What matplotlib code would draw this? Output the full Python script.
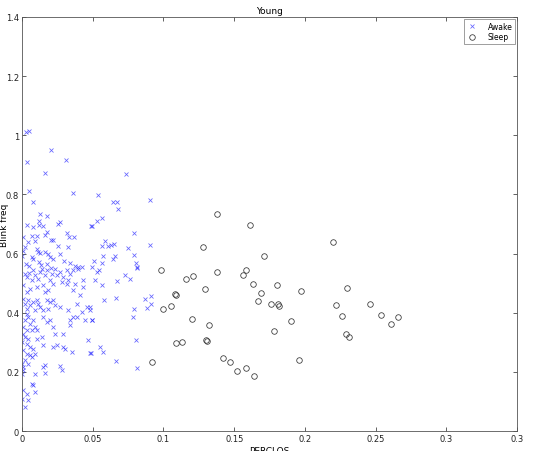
import numpy as np
import matplotlib
matplotlib.use("Agg")
from matplotlib import pyplot as plt

# Awake samples (PERCLOS, blink frequency)
awake_x = [
    0.003, 0.005, 0.0205, 0.0038, 0.031, 0.0165, 0.0047, 0.036, 0.008, 0.0127,
    0.018, 0.0033, 0.008, 0.012, 0.0118, 0.015, 0.0257, 0.027, 0.0316, 0.033,
    0.0368, 0.001, 0.0104, 0.0069, 0.0163, 0.0175, 0.0205, 0.022, 0.004, 0.002,
    0.0092, 0.0257, 0.0328, 0.0488,
    0.0005, 0.0, 0.0104, 0.0115, 0.0127, 0.0163, 0.0186, 0.0069, 0.008, 0.0198,
    0.022, 0.0269, 0.030, 0.034, 0.0375, 0.0399, 0.0422, 0.003, 0.005, 0.012,
    0.0135, 0.018, 0.0205,
    0.0734, 0.054, 0.064, 0.067, 0.068, 0.0906, 0.0564, 0.0533, 0.0493, 0.0795,
    0.0587, 0.0564, 0.0611, 0.063, 0.0653, 0.0748, 0.0906, 0.0575, 0.0658, 0.0642,
    0.0795, 0.051, 0.0564, 0.0807, 0.0493, 0.0812,
    0.0021, 0.0033, 0.0052, 0.0068, 0.008, 0.0092, 0.0116, 0.0127, 0.0139, 0.0163,
    0.0175, 0.0198, 0.021, 0.0233, 0.0245, 0.0269, 0.0281, 0.0316, 0.0328, 0.034,
    0.0363, 0.0375, 0.0399, 0.0434, 0.0434, 0.041, 0.0363, 0.0316, 0.0292, 0.0222,
    0.0186, 0.0163, 0.0151, 0.0104, 0.0057, 0.0033, 0.0009,
    0.0009, 0.0021, 0.0045, 0.0033, 0.0057, 0.008, 0.0104, 0.0116, 0.0092, 0.0127,
    0.0151, 0.0175, 0.0198, 0.0222, 0.0233, 0.0186, 0.0269, 0.0328, 0.0387, 0.0422,
    0.0458, 0.0481, 0.0363, 0.034, 0.0387, 0.0446, 0.0493, 0.0033, 0.0045, 0.0021,
    0.0057, 0.008, 0.0092, 0.0151, 0.0175, 0.0198, 0.0222, 0.0233, 0.0292, 0.034,
    0.0009, 0.0033, 0.0068, 0.0104,
    0.0009, 0.0021, 0.0045, 0.0, 0.0033, 0.0057, 0.008, 0.0104, 0.0139, 0.0151,
    0.0222, 0.0245, 0.0292, 0.0304, 0.0351, 0.0469, 0.0481, 0.0009, 0.0033, 0.0057,
    0.0068, 0.0092, 0.0021, 0.0, 0.0045, 0.0151, 0.0163, 0.0269, 0.0281, 0.0009,
    0.0009, 0.0092, 0.0163, 0.0, 0.0068, 0.008, 0.0009, 0.0092, 0.0033, 0.0,
    0.0045, 0.0021,
    0.0547, 0.0533, 0.0517, 0.0564, 0.067, 0.0729, 0.0764, 0.0811, 0.058, 0.0665,
    0.087, 0.091, 0.091, 0.0887, 0.0792, 0.0788, 0.0493, 0.0481, 0.0807, 0.0552,
    0.0571, 0.0488, 0.0665, 0.0816,
]
awake_y = [
    1.010, 1.015, 0.951, 0.909, 0.916, 0.871, 0.811, 0.805, 0.773, 0.735,
    0.728, 0.698, 0.691, 0.710, 0.697, 0.694, 0.700, 0.708, 0.670, 0.655,
    0.655, 0.655, 0.658, 0.660, 0.663, 0.674, 0.647, 0.647, 0.638, 0.621,
    0.644, 0.627, 0.621, 0.692,
    0.610, 0.593, 0.616, 0.606, 0.602, 0.604, 0.599, 0.590, 0.582, 0.587,
    0.582, 0.599, 0.575, 0.569, 0.558, 0.556, 0.556, 0.565, 0.558, 0.570,
    0.560, 0.565, 0.552,
    0.869, 0.798, 0.774, 0.776, 0.752, 0.782, 0.719, 0.710, 0.692, 0.670,
    0.644, 0.625, 0.626, 0.629, 0.633, 0.619, 0.630, 0.593, 0.593, 0.582,
    0.595, 0.576, 0.568, 0.568, 0.553, 0.553,
    0.532, 0.521, 0.534, 0.510, 0.543, 0.526, 0.515, 0.538, 0.549, 0.526,
    0.543, 0.510, 0.532, 0.549, 0.526, 0.538, 0.504, 0.543, 0.510, 0.532,
    0.543, 0.498, 0.549, 0.510, 0.487, 0.459, 0.476, 0.498, 0.521, 0.498,
    0.476, 0.470, 0.493, 0.487, 0.481, 0.470, 0.493,
    0.448, 0.431, 0.442, 0.414, 0.425, 0.436, 0.442, 0.431, 0.408, 0.419,
    0.408, 0.442, 0.436, 0.442, 0.425, 0.414, 0.419, 0.408, 0.431, 0.402,
    0.419, 0.408, 0.386, 0.374, 0.386, 0.374, 0.374, 0.397, 0.386, 0.374,
    0.363, 0.374, 0.352, 0.386, 0.369, 0.374, 0.352, 0.329, 0.329, 0.357,
    0.352, 0.340, 0.340, 0.340,
    0.329, 0.318, 0.312, 0.301, 0.295, 0.284, 0.278, 0.312, 0.318, 0.290,
    0.284, 0.290, 0.284, 0.278, 0.267, 0.307, 0.264, 0.273, 0.262, 0.256,
    0.250, 0.259, 0.239, 0.228, 0.228, 0.216, 0.222, 0.219, 0.205, 0.216,
    0.205, 0.194, 0.196, 0.194, 0.160, 0.154, 0.138, 0.132, 0.126, 0.109,
    0.104, 0.081,
    0.546, 0.538, 0.512, 0.495, 0.507, 0.526, 0.515, 0.551, 0.444, 0.451,
    0.448, 0.457, 0.431, 0.416, 0.411, 0.386, 0.377, 0.419, 0.307, 0.284,
    0.267, 0.264, 0.237, 0.213,
]

# Sleep samples
sleep_x = [
    0.138, 0.161, 0.128, 0.171, 0.098, 0.116, 0.121, 0.138, 0.158, 0.156,
    0.180, 0.129, 0.163, 0.169, 0.108, 0.109, 0.167, 0.176, 0.181, 0.182,
    0.100, 0.105, 0.120, 0.132, 0.178, 0.109, 0.113, 0.130, 0.131, 0.092,
    0.142, 0.147, 0.152, 0.158, 0.164, 0.220, 0.197, 0.230, 0.222, 0.246,
    0.226, 0.254, 0.266, 0.261, 0.190, 0.229, 0.231, 0.196,
]
sleep_y = [
    0.735, 0.698, 0.623, 0.593, 0.545, 0.514, 0.524, 0.539, 0.545, 0.527,
    0.494, 0.481, 0.497, 0.466, 0.463, 0.460, 0.439, 0.428, 0.428, 0.424,
    0.413, 0.424, 0.378, 0.358, 0.337, 0.298, 0.301, 0.308, 0.305, 0.234,
    0.246, 0.233, 0.202, 0.212, 0.187, 0.638, 0.472, 0.483, 0.427, 0.428,
    0.388, 0.393, 0.386, 0.361, 0.371, 0.327, 0.319, 0.239,
]

x_ticks = [0, 0.05, 0.1, 0.15, 0.2, 0.25, 0.3, 0.35]
x_labels = ["0", "0.05", "0.1", "0.15", "0.2", "0.25", "0.3", "0.3"]
y_ticks = [0, 0.2, 0.4, 0.6, 0.8, 1, 1.2, 1.4]
y_labels = ["0", "0.2", "0.4", "0.6", "0.8", "1", "1.2", "1.4"]

fig = plt.figure(figsize=(5.33, 4.52), dpi=100)
ax = fig.add_axes([0.0413, 0.0442, 0.929, 0.916])

ax.plot(awake_x, awake_y, "x", color="#2020ff", markersize=3.2, markeredgewidth=0.55,
        alpha=0.7, label="Awake")
ax.plot(sleep_x, sleep_y, "o", markerfacecolor="none", markeredgecolor="#333333",
        markersize=4.0, markeredgewidth=0.55, label="Sleep")

ax.set_xlim(0, 0.35)
ax.set_ylim(0, 1.4)
ax.set_xticks(x_ticks)
ax.set_xticklabels(x_labels)
ax.set_yticks(y_ticks)
ax.set_yticklabels(y_labels)
ax.tick_params(direction="in", top=True, right=True, labelsize=6, length=3,
               width=0.5, colors="#222222", pad=2)
for s in ax.spines.values():
    s.set_linewidth(0.6)
    s.set_color("#555555")

ax.set_title("Young", fontsize=6.5, pad=3)
ax.set_xlabel("PERCLOS", fontsize=6.5, labelpad=2)
ax.set_ylabel("Blink freq", fontsize=6.5)
ax.yaxis.set_label_coords(-0.027, 0.5)

leg = ax.legend(loc="upper right", fontsize=5.5, frameon=True, fancybox=False,
                borderpad=0.35, labelspacing=0.25, handletextpad=1.2,
                borderaxespad=0.25, handlelength=1.6)
leg.get_frame().set_edgecolor("#555555")
leg.get_frame().set_linewidth(0.5)

fig.savefig("out.png", dpi=100)
